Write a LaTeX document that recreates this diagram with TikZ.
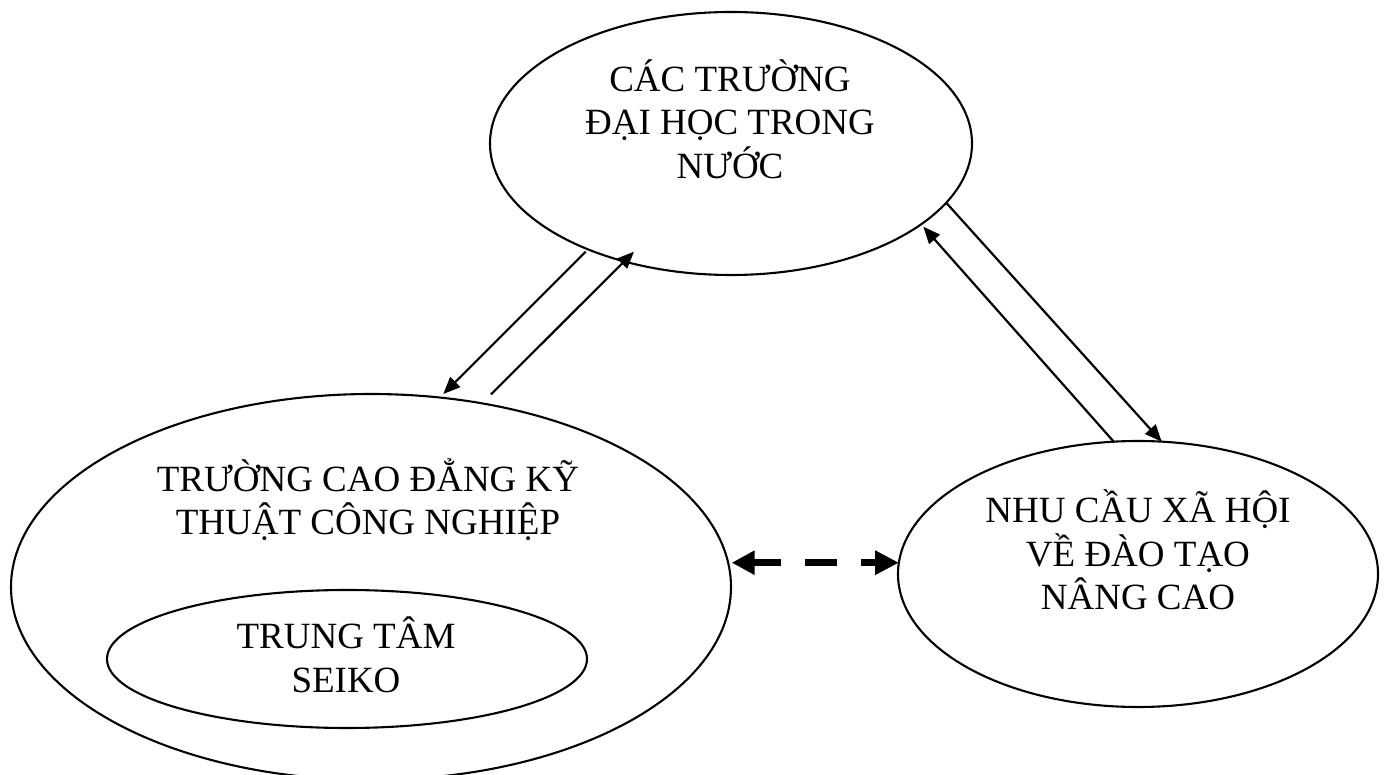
\documentclass[tikz,border=0pt]{standalone}
\usepackage{fontspec}
\setmainfont{Liberation Serif}
\usetikzlibrary{shapes.geometric,arrows.meta}
\tikzset{
  oval/.style={draw=black, line width=2.1pt, ellipse, inner sep=0pt},
  lbl/.style={align=center, inner sep=0pt, font=\fontsize{37}{43.5}\selectfont},
  thin arrow/.style={line width=2.2pt, -{Triangle[length=17pt,width=14pt]}},
  big dash/.style={line width=7pt, {Triangle[length=23pt,width=23pt]}-{Triangle[length=24pt,width=23pt]},
     dash pattern=on 28pt off 24pt on 32pt off 24pt on 40pt}
}
\begin{document}
\begin{tikzpicture}[x=1pt,y=-1pt]
\useasboundingbox (0,0) rectangle (1385,775);
\clip (0,0) rectangle (1385,775);
\fill[white] (0,0) rectangle (1385,775);
% ellipses
\node[oval, minimum width=482pt, minimum height=263pt] (top) at (731,143.5) {};
\node[oval, minimum width=720pt, minimum height=386pt] (big) at (371,587) {};
\node[oval, minimum width=480pt, minimum height=138pt] (inner) at (347,659) {};
\node[oval, minimum width=480pt, minimum height=266pt] (right) at (1138,574) {};
% texts
\node[lbl] (topT) at (730,119) {CÁC TRƯỜNG\\ĐẠI HỌC TRONG\\NƯỚC};
\node[lbl] (bigT) at (368,499.5) {TRƯỜNG CAO ĐẲNG KỸ\\THUẬT CÔNG NGHIỆP};
\node[lbl] (innerT) at (346,655) {TRUNG TÂM\\SEIKO};
\node[lbl] (rightT) at (1138,550) {NHU CẦU XÃ HỘI\\VỀ ĐÀO TẠO\\NÂNG CAO};
% arrow end points on the ellipse borders
\coordinate (a1s) at (585.7,251.7);
\coordinate (a1e) at (443.3,394);
\coordinate (a2s) at (491,394.3);
\coordinate (a2e) at (634,251.7);
\coordinate (a3s) at (946.7,203.3);
\coordinate (a3e) at (1161.7,441.7);
\coordinate (a4s) at (1114.3,442.3);
\coordinate (a4e) at (923.3,226.7);
\coordinate (dL) at (731.7,562.7);
\coordinate (dR) at (899,562.7);
\draw[thin arrow] (a1s) -- (a1e);
\draw[thin arrow] (a2s) -- (a2e);
\draw[thin arrow] (a3s) -- (a3e);
\draw[thin arrow] (a4s) -- (a4e);
\draw[big dash] (dL) -- (dR);
\end{tikzpicture}
\end{document}
